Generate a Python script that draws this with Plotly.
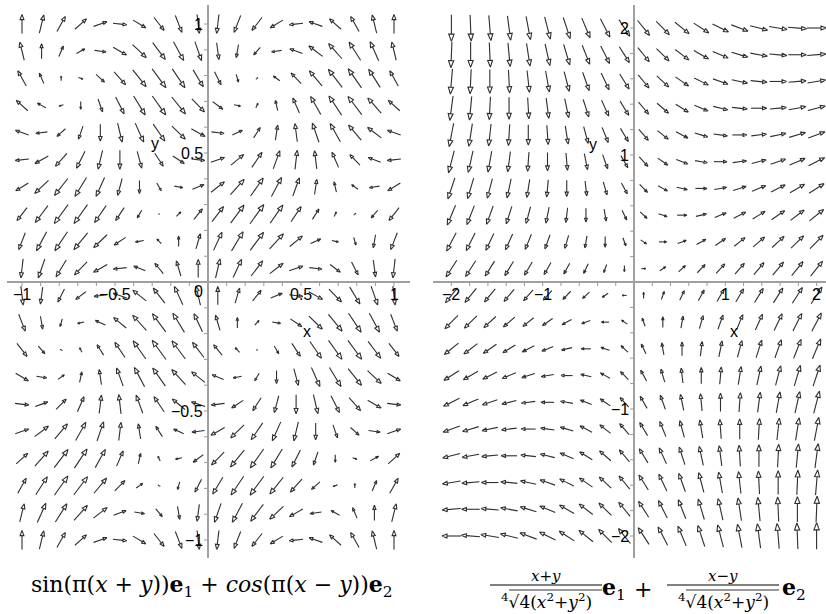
import numpy as np
import plotly.graph_objects as go

W, H = 826, 614

# ---- data -------------------------------------------------------------
left_grid_x = list(np.round(np.linspace(-1, 1, 20), 6))
left_grid_y = list(np.round(np.linspace(-1, 1, 20), 6))
right_grid_x = list(np.round(np.linspace(-2, 2, 20), 6))
right_grid_y = list(np.round(np.linspace(-2, 2, 20), 6))

left_xticks = [-1, -0.5, 0.5, 1]
left_xtick_labels = ["−1", "−0.5", "0.5", "1"]
left_yticks = [1, 0.5, -0.5, -1]
left_ytick_labels = ["1", "0.5", "−0.5", "−1"]
right_xticks = [-2, -1, 1, 2]
right_xtick_labels = ["−2", "−1", "1", "2"]
right_yticks = [2, 1, -1, -2]
right_ytick_labels = ["2", "1", "−1", "−2"]
left_minor = [round(-1 + 0.1 * i, 3) for i in range(21) if i != 10]
right_minor = [round(-2 + 0.2 * i, 3) for i in range(21) if i != 10]


def field_left(x, y):
    return np.sin(np.pi * (x + y)), np.cos(np.pi * (x - y))


def field_right(x, y):
    d = (4 * (x ** 2 + y ** 2)) ** 0.25
    return (x + y) / d, (x - y) / d


# ---- pixel geometry of the two panels ---------------------------------
P = {
    "L": dict(ox=208, oy=282, sx=186, sy=258, xd=(7, 410), yd=(5, 558)),
    "R": dict(ox=634, oy=282, sx=91.3, sy=127, xd=(433, 826), yd=(5, 558)),
}

AC = "#2e2e2e"


def arrows(gx, gy, fn, sx, sy):
    X, Y = np.meshgrid(np.array(gx), np.array(gy))
    U, V = fn(X, Y)
    spacing = gx[1] - gx[0]
    k = spacing / np.max(np.hypot(U, V))
    xs, ys = [], []
    for x0, y0, u, v in zip(X.ravel(), Y.ravel(), U.ravel(), V.ravel()):
        dx, dy = u * k, v * k
        tx, ty = x0 - dx / 2, y0 - dy / 2
        hx, hy = x0 + dx / 2, y0 + dy / 2
        pdx, pdy = dx * sx, dy * sy
        L = np.hypot(pdx, pdy)
        if L < 0.3:
            continue
        ux, uy = pdx / L, pdy / L
        hl, hw = 0.27 * L, 0.10 * L
        bx, by = -ux * hl, -uy * hl
        nx, ny = -uy * hw, ux * hw
        base = (hx + bx / sx, hy + by / sy)
        c1 = (hx + (bx + nx) / sx, hy + (by + ny) / sy)
        c2 = (hx + (bx - nx) / sx, hy + (by - ny) / sy)
        xs += [tx, base[0], None, hx, c1[0], c2[0], hx, None]
        ys += [ty, base[1], None, hy, c1[1], c2[1], hy, None]
    return xs, ys


fig = go.Figure()

for key, gx, gy, fn, xa, ya in [
    ("L", left_grid_x, left_grid_y, field_left, "x", "y"),
    ("R", right_grid_x, right_grid_y, field_right, "x2", "y2"),
]:
    p = P[key]
    xs, ys = arrows(gx, gy, fn, p["sx"], p["sy"])
    fig.add_trace(go.Scatter(x=xs, y=ys, mode="lines", xaxis=xa, yaxis=ya,
                             line=dict(color=AC, width=1.1), hoverinfo="skip",
                             showlegend=False))

for key, minor, xa, ya in [("L", left_minor, "x", "y"), ("R", right_minor, "x2", "y2")]:
    p = P[key]
    tl = 4
    xs, ys = [], []
    for t in minor:
        xs += [t, t, None]
        ys += [0, -tl / p["sy"], None]
        xs += [0, -tl / p["sx"], None]
        ys += [t, t, None]
    fig.add_trace(go.Scatter(x=xs, y=ys, mode="lines", xaxis=xa, yaxis=ya,
                             line=dict(color="#9a9a9a", width=1), hoverinfo="skip",
                             showlegend=False))


def rng(p):
    x0 = (p["xd"][0] - p["ox"]) / p["sx"]
    x1 = (p["xd"][1] - p["ox"]) / p["sx"]
    y1 = (p["oy"] - p["yd"][0]) / p["sy"]
    y0 = (p["oy"] - p["yd"][1]) / p["sy"]
    return [x0, x1], [y0, y1]


def dom(p):
    return [p["xd"][0] / W, p["xd"][1] / W], [1 - p["yd"][1] / H, 1 - p["yd"][0] / H]


axcommon = dict(showgrid=False, showticklabels=False, ticks="", zeroline=True,
                zerolinecolor="#a0a0a0", zerolinewidth=2, showline=False, fixedrange=True)

lxr, lyr = rng(P["L"])
rxr, ryr = rng(P["R"])
lxd, lyd = dom(P["L"])
rxd, ryd = dom(P["R"])

fig.update_layout(
    width=W, height=H, margin=dict(l=0, r=0, t=0, b=0),
    paper_bgcolor="white", plot_bgcolor="white", showlegend=False,
    xaxis=dict(range=lxr, domain=lxd, anchor="y", **axcommon),
    yaxis=dict(range=lyr, domain=lyd, anchor="x", **axcommon),
    xaxis2=dict(range=rxr, domain=rxd, anchor="y2", **axcommon),
    yaxis2=dict(range=ryr, domain=ryd, anchor="x2", **axcommon),
)

TF = dict(family="Liberation Sans, Arial, sans-serif", size=16, color="black")
ann = []
for xa, ya, xt, xl, yt, yl in [
    ("x", "y", left_xticks, left_xtick_labels, left_yticks, left_ytick_labels),
    ("x2", "y2", right_xticks, right_xtick_labels, right_yticks, right_ytick_labels),
]:
    for t, s in zip(xt, xl):
        ann.append(dict(x=t, y=0, xref=xa, yref=ya, text=s, showarrow=False,
                        xanchor="center", yanchor="top", yshift=-2, font=TF))
    for t, s in zip(yt, yl):
        ann.append(dict(x=0, y=t, xref=xa, yref=ya, text=s, showarrow=False,
                        xanchor="right", yanchor="middle", xshift=-3, font=TF))

ann.append(dict(x=0, y=0, xref="x", yref="y", text="0", showarrow=False,
                xanchor="right", yanchor="top", xshift=-3, yshift=1, font=TF))


def px(x, y):
    return x / W, 1 - y / H


for x, y, s in [(155, 143, "y"), (307, 331, "x"), (593, 144, "y"), (734, 331, "x")]:
    a, b = px(x, y)
    ann.append(dict(x=a, y=b, xref="paper", yref="paper", text=s, showarrow=False,
                    xanchor="center", yanchor="middle", font=TF))

SF = "DejaVu Serif, Liberation Serif, serif"
a, b = px(212, 586)
ann.append(dict(x=a, y=b, xref="paper", yref="paper", showarrow=False,
                xanchor="center", yanchor="middle",
                text="sin(π(<i>x</i> + <i>y</i>))<b>e</b><sub>1</sub> + <i>cos</i>(π(<i>x</i> − <i>y</i>))<b>e</b><sub>2</sub>",
                font=dict(family=SF, size=22, color="black")))

shapes = []
for cx, num in [(546, "<i>x</i>+<i>y</i>"), (723, "<i>x</i>−<i>y</i>")]:
    a, b = px(cx, 576)
    ann.append(dict(x=a, y=b, xref="paper", yref="paper", showarrow=False,
                    xanchor="center", yanchor="middle", text=num,
                    font=dict(family=SF, size=15, color="black")))
    a, b = px(cx, 601)
    ann.append(dict(x=a, y=b, xref="paper", yref="paper", showarrow=False,
                    xanchor="center", yanchor="middle",
                    text="<sup>4</sup>√4(<i>x</i><sup>2</sup>+<i>y</i><sup>2</sup>)",
                    font=dict(family=SF, size=17, color="black")))
    x0, y0 = px(cx - 56, 585)
    x1, _ = px(cx + 56, 585)
    shapes.append(dict(type="line", xref="paper", yref="paper", x0=x0, x1=x1, y0=y0, y1=y0,
                       line=dict(color="black", width=1)))
    x0, y0 = px(cx - 37, 590)
    x1, _ = px(cx + 56, 590)
    shapes.append(dict(type="line", xref="paper", yref="paper", x0=x0, x1=x1, y0=y0, y1=y0,
                       line=dict(color="black", width=0.8)))

for cx, s in [(614, "<b>e</b><sub>1</sub>"), (643, "+"), (794, "<b>e</b><sub>2</sub>")]:
    a, b = px(cx, 589)
    ann.append(dict(x=a, y=b, xref="paper", yref="paper", showarrow=False,
                    xanchor="center", yanchor="middle", text=s,
                    font=dict(family=SF, size=22, color="black")))

fig.update_layout(annotations=ann, shapes=shapes)
fig.write_html("out.html", config={"displayModeBar": False},
               post_script="document.body.style.margin='0';")
